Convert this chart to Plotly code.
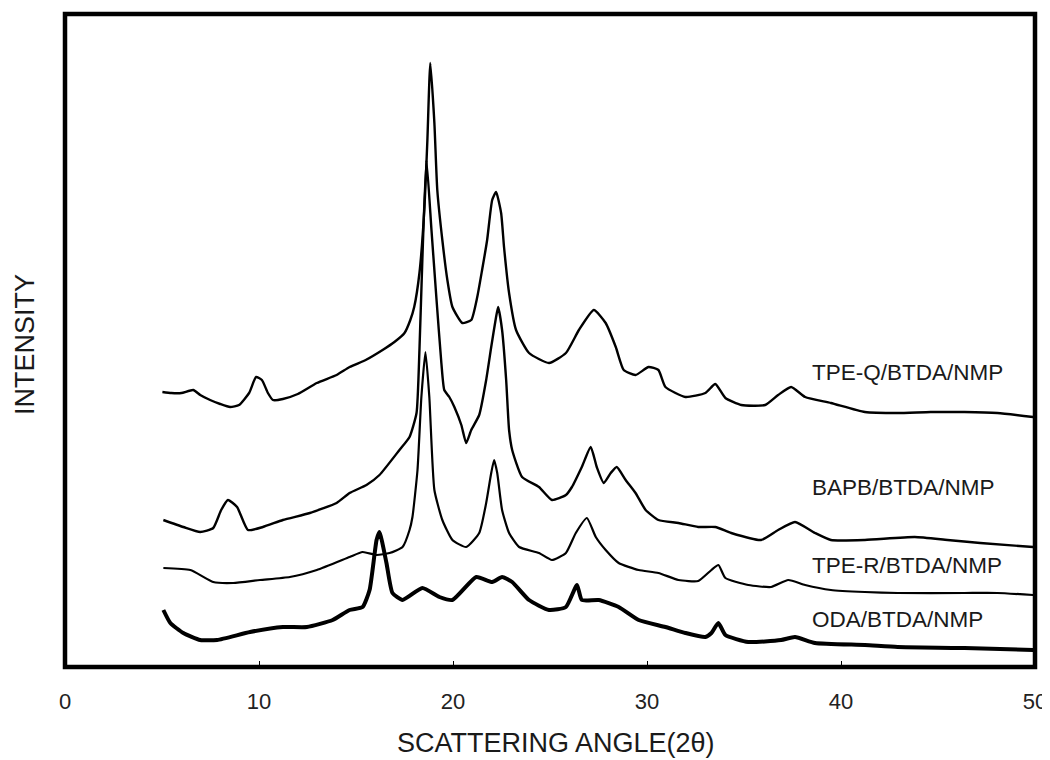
import plotly.graph_objects as go

# ---- data (2-theta in degrees, intensity in arbitrary units) ----
tpeq_2theta = [5.02, 5.48, 6.0, 6.61, 6.97, 7.48, 8.0, 8.51, 8.97, 9.49, 9.85, 10.15, 10.46, 10.72,
               11.23, 12.0, 12.98, 14.0, 14.67, 15.5, 16.37, 16.98, 17.5, 17.8, 18.0, 18.27, 18.53,
               18.68, 18.83, 19.04, 19.19, 19.45, 19.71, 19.97, 20.48, 20.94, 21.25, 21.5, 21.76,
               22.02, 22.22, 22.48, 22.63, 22.89, 23.25, 23.92, 24.95, 25.82, 26.49, 27.26, 27.87,
               28.39, 28.8, 29.41, 30.08, 30.59, 30.95, 31.98, 33.01, 33.52, 34.04, 34.86, 36.09,
               36.76, 37.43, 38.15, 39.48, 41.23, 42.92, 44.62, 46.36, 48.06, 49.9]
tpeq_int = [275, 274, 274, 277, 272, 267, 263, 260, 262, 274, 290, 287, 274, 267,
            268, 273, 284, 292, 300, 307, 317, 325, 334, 347, 360, 394, 460,
            527, 604, 544, 477, 427, 387, 360, 344, 347, 370, 397, 427,
            467, 475, 454, 420, 374, 337, 314, 304, 314, 337, 357, 344,
            320, 297, 292, 300, 297, 280, 270, 274, 283, 269, 262, 262,
            272, 280, 270, 264, 255, 254, 255, 255, 254, 250]

bapb_2theta = [5.07, 6.1, 6.97, 7.64, 8.05, 8.4, 8.87, 9.43, 10.2, 11.23, 12.62, 14.0, 14.67, 15.54,
               16.21, 17.24, 17.76, 18.12, 18.27, 18.42, 18.63, 18.89, 19.14, 19.4, 19.55, 19.81,
               20.07, 20.43, 20.68, 20.94, 21.35, 21.71, 21.97, 22.22, 22.33, 22.53, 22.74, 22.89,
               23.05, 23.56, 24.43, 25.1, 25.82, 26.13, 26.64, 27.1, 27.41, 27.77, 28.13, 28.44,
               28.9, 29.41, 29.93, 30.59, 31.62, 32.64, 33.52, 34.34, 35.88, 36.76, 37.63, 38.66,
               39.48, 41.23, 43.8, 45.49, 47.18, 49.9]
bapb_int = [147, 140, 135, 139, 157, 167, 160, 137, 140, 147, 154, 164, 174, 182,
            192, 217, 230, 254, 317, 407, 507, 437, 370, 304, 277, 270,
            260, 242, 224, 237, 252, 287, 320, 350, 360, 337, 287, 237,
            217, 190, 180, 167, 172, 180, 200, 220, 200, 184, 194, 200,
            187, 174, 157, 147, 144, 140, 140, 134, 127, 137, 145, 134,
            127, 127, 130, 127, 124, 120]

tper_2theta = [5.07, 6.46, 7.64, 8.67, 10.05, 11.59, 12.98, 14.67, 15.34, 16.06, 16.73, 17.4, 17.76,
               17.91, 18.17, 18.37, 18.58, 18.78, 19.04, 19.45, 19.97, 20.68, 21.35, 21.71, 21.97,
               22.12, 22.28, 22.53, 22.89, 23.41, 24.43, 25.1, 25.82, 26.33, 26.9, 27.36, 27.87,
               28.54, 29.57, 30.59, 31.62, 32.64, 33.32, 33.68, 34.04, 35.22, 36.4, 37.28, 38.15,
               39.48, 41.23, 42.92, 46.36, 48.06, 49.9]
tper_int = [99, 97, 85, 84, 87, 90, 97, 110, 115, 112, 114, 120, 137,
            150, 197, 270, 315, 270, 177, 147, 127, 120, 134, 164, 194,
            207, 194, 157, 134, 120, 114, 107, 114, 134, 149, 130, 117,
            104, 97, 94, 87, 86, 97, 102, 89, 82, 80, 87, 82,
            77, 75, 74, 74, 74, 72]

oda_2theta = [5.07, 5.43, 6.1, 6.97, 7.84, 9.54, 11.23, 12.47, 13.8, 14.67, 15.34, 15.7, 16.06,
              16.21, 16.57, 16.88, 17.4, 18.42, 19.3, 19.97, 21.2, 22.02, 22.53, 23.05, 23.92,
              24.95, 25.82, 26.39, 26.64, 27.51, 28.54, 29.57, 30.95, 31.98, 33.01, 33.32, 33.68,
              34.04, 35.22, 36.91, 37.63, 38.66, 41.23, 42.92, 46.36, 49.9]
oda_int = [57, 44, 34, 27, 27, 35, 40, 40, 47, 57, 60, 77, 127,
           135, 104, 74, 67, 79, 70, 67, 90, 85, 90, 85, 67,
           57, 60, 82, 67, 67, 60, 47, 40, 34, 30, 34, 44,
           32, 25, 27, 30, 24, 22, 20, 19, 17]

series_names = ["TPE-Q/BTDA/NMP", "BAPB/BTDA/NMP", "TPE-R/BTDA/NMP", "ODA/BTDA/NMP"]
label_2theta = 38.4
label_int = [295, 180, 102, 48]

x_ticks = [0, 10, 20, 30, 40, 50]
x_title = "SCATTERING ANGLE(2θ)"
y_title = "INTENSITY"

FONT = "Liberation Sans, Arial, sans-serif"
TEXT = "#1a1a1a"

fig = go.Figure()
series = [
    (tpeq_2theta, tpeq_int, 2.4),
    (bapb_2theta, bapb_int, 2.4),
    (tper_2theta, tper_int, 2.2),
    (oda_2theta, oda_int, 4.0),
]
for (xs, ys, w), name in zip(series, series_names):
    fig.add_trace(go.Scatter(x=xs, y=ys, mode="lines", name=name,
                             line=dict(color="black", width=w, shape="spline", smoothing=0.5),
                             showlegend=False))

for name, yv in zip(series_names, label_int):
    fig.add_annotation(x=label_2theta, y=yv, text=name, showarrow=False,
                       xanchor="left", yanchor="middle",
                       font=dict(family=FONT, size=22.5, color=TEXT))

# axis titles (placed as paper annotations for exact positioning)
fig.add_annotation(xref="paper", yref="paper", x=0.506, y=0, yshift=-76,
                   xanchor="center", yanchor="middle", text=x_title, showarrow=False,
                   font=dict(family=FONT, size=27, color=TEXT))
fig.add_annotation(xref="paper", yref="paper", x=0, y=0.493, xshift=-40,
                   xanchor="center", yanchor="middle", text=y_title, showarrow=False,
                   textangle=-90, font=dict(family=FONT, size=27, color=TEXT))

# the page body adds an 8 px offset, so the figure is sized/margined to compensate
fig.update_layout(
    width=1041, height=752,
    margin=dict(l=57, r=14, t=6, b=93),
    paper_bgcolor="white", plot_bgcolor="white",
    font=dict(family=FONT, color=TEXT),
    xaxis=dict(range=[0, 50], tickvals=x_ticks, ticktext=[str(v) for v in x_ticks],
               ticks="inside", ticklen=6, tickwidth=1, tickcolor="black",
               showgrid=False, zeroline=False, showline=False, automargin=False,
               tickfont=dict(family=FONT, size=22, color="#222"),
               ticklabelstandoff=19),
    yaxis=dict(range=[0, 653], showticklabels=False, ticks="", showgrid=False,
               zeroline=False, showline=False, automargin=False),
)
fig.add_shape(type="rect", xref="paper", yref="paper", x0=0, y0=0, x1=1, y1=1,
              line=dict(color="black", width=4.5), layer="above")

fig.write_html("out.html")
